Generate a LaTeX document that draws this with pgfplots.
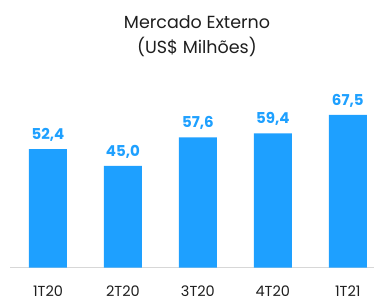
\documentclass[border=0pt]{standalone}
\usepackage{fontspec}
\setmainfont{Poppins}
\usepackage{pgfplots}
\pgfplotsset{compat=1.18}
\definecolor{barblue}{RGB}{30,160,255}
\definecolor{axgray}{RGB}{215,215,215}
\definecolor{txt}{RGB}{30,30,30}
\begin{document}
\begin{tikzpicture}
\useasboundingbox (0,0) rectangle (374bp,300bp);
\begin{axis}[
  at={(10bp,32.5bp)}, anchor=south west,
  scale only axis, width=364bp, height=235bp,
  xmin=-0.507, xmax=4.35, ymin=0, ymax=104,
  axis x line=bottom, axis y line=none,
  x axis line style={axgray, line width=1.2bp, -},
  xtick=data, xticklabels={1T20,2T20,3T20,4T20,1T21},
  major tick length=0pt,
  xticklabel style={font=\fontsize{14.5bp}{16bp}\selectfont, text=txt, anchor=base, inner sep=0pt, yshift=-28.5bp},
  ybar, bar width=38bp,
  nodes near coords,
  every node near coord/.append style={font=\fontsize{15bp}{17bp}\selectfont\bfseries, text=barblue, yshift=4bp},
  /pgf/number format/.cd, fixed, fixed zerofill, precision=1, use comma, assume math mode=true,
]
\addplot[fill=barblue, draw=none] coordinates {(0,52.4) (1,45.0) (2,57.6) (3,59.4) (4,67.5)};
\end{axis}
\node[anchor=base, font=\fontsize{17.5bp}{19bp}\selectfont, text=txt] at (197bp,271bp) {Mercado Externo};
\node[anchor=base, font=\fontsize{17.5bp}{19bp}\selectfont, text=txt] at (197bp,246bp) {(US\$ Milhões)};
\end{tikzpicture}
\end{document}
